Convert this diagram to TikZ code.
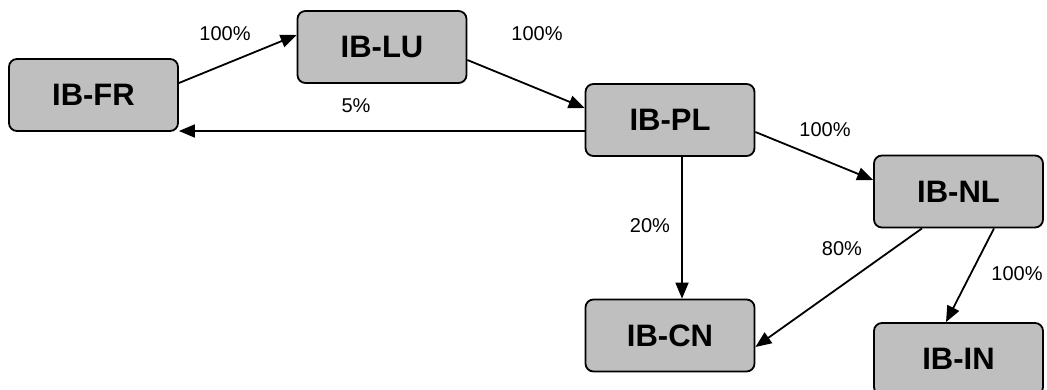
\documentclass[tikz,border=0pt]{standalone}
\usepackage{fontspec}
\setmainfont{Liberation Sans}
\usetikzlibrary{arrows.meta}
\tikzset{
  entity/.style={draw, line width=1.8pt, rounded corners=8pt, fill=black!25,
    minimum width=169pt, minimum height=72pt, inner sep=0pt,
    font=\fontsize{31}{31}\selectfont\bfseries},
  share/.style={font=\fontsize{20}{20}\selectfont, inner sep=0pt},
  link/.style={line width=1.8pt, -{Triangle[length=16pt,width=13pt]}}
}
\begin{document}
\begin{tikzpicture}[x=1pt,y=-1pt]
\clip (0,0) rectangle (1047,389);
\node (fr) [entity] at (93.5,95) {IB-FR};
\node (lu) [entity] at (382,47) {IB-LU};
\node (pl) [entity] at (670,120) {IB-PL};
\node (nl) [entity] at (958.5,191.5) {IB-NL};
\node (cn) [entity] at (670,335.5) {IB-CN};
\node (in) [entity] at (958.5,359) {IB-IN};

\node (frlu) [share] at (225,34) {100\%};
\node (lupl) [share] at (537,34) {100\%};
\node (plfr) [share] at (356,106) {5\%};
\node (plnl) [share] at (825,130) {100\%};
\node (plcn) [share] at (650,226) {20\%};
\node (nlcn) [share] at (842,249) {80\%};
\node (nlin) [share] at (1017,274) {100\%};

\draw [link] ([yshift=12pt]fr.east) -- ([yshift=12pt]lu.west);
\draw [link] ([yshift=-13pt]lu.east) -- ([yshift=12pt]pl.west);
\draw [link] ([yshift=-11pt]pl.west) -- ([yshift=-11pt]pl.west -| fr.east);
\draw [link] ([yshift=-12pt]pl.east) -- ([yshift=11.5pt]nl.west);
\draw [link] ([xshift=12pt]pl.south) -- ([xshift=12pt]cn.north);
\draw [link] ([xshift=-36.5pt]nl.south) -- ([yshift=-11.5pt]cn.east);
\draw [link] ([xshift=35.5pt]nl.south) -- ([xshift=-12.5pt]in.north);
\end{tikzpicture}
\end{document}
